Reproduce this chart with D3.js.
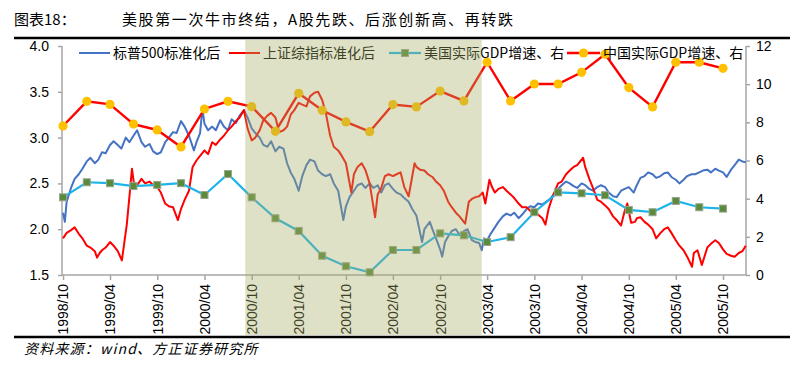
<!DOCTYPE html>
<html><head><meta charset="utf-8">
<script src="https://cdn.jsdelivr.net/npm/d3@7/dist/d3.min.js"></script>
<style>
body{margin:0;background:#fff;}
svg{display:block;}
</style></head>
<body><svg id="c" width="808" height="376"></svg>
<script>
// ---------- data ----------
const titleLabel = "图表18：";
const titleText = "美股第一次牛市终结，A股先跌、后涨创新高、再转跌";
const sourceText = "资料来源：wind、方正证券研究所";
const seriesNames = ["标普500标准化后","上证综指标准化后","美国实际GDP增速、右","中国实际GDP增速、右"];
const xTickLabels = ["1998/10","1999/04","1999/10","2000/04","2000/10","2001/04","2001/10","2002/04","2002/10","2003/04","2003/10","2004/04","2004/10","2005/04","2005/10"];
const leftTicks = [1.5,2.0,2.5,3.0,3.5,4.0];
const rightTicks = [0,2,4,6,8,10,12];
const shadeRange = ["2000-09-06","2003-03-11"];

const spx = [
["1998-10-01",2.18],["1998-10-08",2.08],["1998-10-15",2.30],["1998-11-01",2.45],["1998-11-15",2.55],
["1998-12-01",2.60],["1998-12-15",2.66],["1999-01-01",2.74],["1999-01-15",2.78],["1999-02-01",2.72],
["1999-02-15",2.76],["1999-03-01",2.84],["1999-03-15",2.83],["1999-04-01",2.92],["1999-04-15",2.96],
["1999-05-01",2.92],["1999-05-15",2.88],["1999-06-01",3.00],["1999-06-15",2.95],["1999-07-01",3.02],
["1999-07-15",3.08],["1999-08-01",2.95],["1999-08-15",2.90],["1999-09-01",2.93],["1999-09-15",2.85],
["1999-10-01",2.82],["1999-10-15",2.84],["1999-11-01",2.95],["1999-11-15",3.00],["1999-12-01",3.06],
["1999-12-15",3.05],["2000-01-01",3.18],["2000-01-15",3.12],["2000-02-01",3.02],["2000-02-20",2.86],
["2000-03-01",2.95],["2000-03-15",3.05],["2000-03-24",3.32],["2000-04-01",3.15],["2000-04-15",3.08],
["2000-05-01",3.12],["2000-05-15",3.08],["2000-06-01",3.19],["2000-06-15",3.12],["2000-07-01",3.08],
["2000-07-15",3.20],["2000-08-01",3.16],["2000-08-15",3.24],["2000-09-01",3.30],["2000-09-15",3.22],
["2000-10-01",3.10],["2000-10-15",3.05],["2000-11-01",3.00],["2000-11-15",2.92],["2000-12-01",2.90],
["2000-12-15",2.96],["2001-01-01",2.85],["2001-01-15",2.90],["2001-02-01",2.88],["2001-02-15",2.72],
["2001-03-01",2.62],["2001-03-15",2.55],["2001-04-01",2.42],["2001-04-15",2.58],["2001-05-01",2.70],
["2001-05-15",2.76],["2001-06-01",2.74],["2001-06-15",2.64],["2001-07-01",2.60],["2001-07-15",2.58],
["2001-08-01",2.60],["2001-08-15",2.50],["2001-09-01",2.42],["2001-09-21",2.10],["2001-10-01",2.25],
["2001-10-15",2.35],["2001-11-01",2.42],["2001-11-15",2.48],["2001-12-01",2.50],["2001-12-15",2.45],
["2002-01-01",2.50],["2002-01-15",2.45],["2002-02-01",2.48],["2002-02-15",2.40],["2002-03-01",2.48],
["2002-03-15",2.50],["2002-04-01",2.44],["2002-04-15",2.40],["2002-05-01",2.38],["2002-05-15",2.34],
["2002-06-01",2.30],["2002-06-15",2.22],["2002-07-01",2.15],["2002-07-23",1.86],["2002-08-01",2.00],
["2002-08-22",2.08],["2002-09-01",2.00],["2002-09-15",1.90],["2002-10-01",1.78],["2002-10-09",1.70],
["2002-10-20",1.86],["2002-11-01",1.92],["2002-11-15",1.98],["2002-12-01",2.00],["2002-12-15",1.94],
["2003-01-01",1.98],["2003-01-15",2.00],["2003-02-01",1.88],["2003-02-15",1.86],["2003-03-01",1.85],
["2003-03-11",1.77],["2003-03-20",1.90],["2003-04-01",1.88],["2003-04-15",1.95],["2003-05-01",2.02],
["2003-05-15",2.08],["2003-06-01",2.14],["2003-06-15",2.17],["2003-07-01",2.15],["2003-07-15",2.18],
["2003-08-01",2.12],["2003-08-15",2.16],["2003-09-01",2.22],["2003-09-15",2.25],["2003-10-01",2.24],
["2003-10-15",2.28],["2003-11-01",2.27],["2003-11-15",2.30],["2003-12-01",2.33],["2003-12-15",2.38],
["2004-01-01",2.44],["2004-01-15",2.48],["2004-02-01",2.52],["2004-02-15",2.50],["2004-03-01",2.47],
["2004-03-15",2.45],["2004-04-01",2.50],["2004-04-15",2.48],["2004-05-01",2.44],["2004-05-15",2.42],
["2004-06-01",2.46],["2004-06-15",2.48],["2004-07-01",2.46],["2004-07-15",2.40],["2004-08-01",2.36],
["2004-08-15",2.35],["2004-09-01",2.42],["2004-09-15",2.44],["2004-10-01",2.46],["2004-10-20",2.40],
["2004-11-01",2.48],["2004-11-15",2.56],["2004-12-01",2.58],["2004-12-15",2.62],["2005-01-01",2.60],
["2005-01-15",2.56],["2005-02-01",2.58],["2005-02-15",2.61],["2005-03-01",2.62],["2005-03-15",2.57],
["2005-04-01",2.54],["2005-04-15",2.50],["2005-05-01",2.54],["2005-05-15",2.58],["2005-06-01",2.60],
["2005-06-15",2.60],["2005-07-01",2.62],["2005-07-15",2.64],["2005-08-01",2.65],["2005-08-15",2.62],
["2005-09-01",2.66],["2005-09-15",2.64],["2005-10-01",2.62],["2005-10-15",2.57],["2005-11-01",2.65],
["2005-11-15",2.70],["2005-12-01",2.76],["2005-12-15",2.74],["2005-12-28",2.73]
];

const shci = [
["1998-10-01",1.90],["1998-10-15",1.96],["1998-11-01",1.99],["1998-11-15",2.02],["1998-12-01",1.95],
["1998-12-15",1.90],["1999-01-01",1.82],["1999-01-15",1.80],["1999-02-01",1.76],["1999-02-10",1.69],
["1999-02-20",1.74],["1999-03-01",1.77],["1999-03-15",1.80],["1999-04-01",1.86],["1999-04-15",1.82],
["1999-05-01",1.76],["1999-05-17",1.66],["1999-06-05",2.05],["1999-06-15",2.35],["1999-06-25",2.66],
["1999-07-05",2.45],["1999-07-15",2.48],["1999-08-01",2.55],["1999-08-15",2.50],["1999-09-01",2.52],
["1999-09-15",2.48],["1999-10-01",2.46],["1999-10-15",2.40],["1999-11-01",2.28],["1999-11-15",2.25],
["1999-12-01",2.24],["1999-12-20",2.10],["2000-01-01",2.22],["2000-01-15",2.32],["2000-02-01",2.42],
["2000-02-15",2.68],["2000-03-01",2.75],["2000-03-15",2.80],["2000-04-01",2.86],["2000-04-15",2.82],
["2000-05-01",2.95],["2000-05-15",2.92],["2000-06-01",2.98],["2000-06-15",3.02],["2000-07-01",3.08],
["2000-07-15",3.12],["2000-08-01",3.18],["2000-08-15",3.22],["2000-09-01",3.30],["2000-09-15",3.10],
["2000-10-01",2.97],["2000-10-15",3.00],["2000-11-01",3.08],["2000-11-15",3.19],["2000-12-01",3.24],
["2000-12-15",3.27],["2001-01-01",3.22],["2001-01-15",3.06],["2001-02-01",3.08],["2001-02-15",3.12],
["2001-03-01",3.25],["2001-03-15",3.30],["2001-04-01",3.38],["2001-04-15",3.36],["2001-05-01",3.34],
["2001-05-15",3.45],["2001-06-01",3.49],["2001-06-15",3.50],["2001-07-01",3.41],["2001-07-15",3.27],
["2001-08-01",3.02],["2001-08-15",2.90],["2001-09-01",2.86],["2001-09-15",2.80],["2001-10-01",2.72],
["2001-10-22",2.40],["2001-11-01",2.60],["2001-11-15",2.68],["2001-12-01",2.72],["2001-12-15",2.65],
["2002-01-01",2.50],["2002-01-22",2.13],["2002-02-01",2.38],["2002-02-15",2.45],["2002-03-01",2.58],
["2002-03-15",2.60],["2002-04-01",2.58],["2002-04-15",2.60],["2002-05-01",2.62],["2002-05-15",2.46],
["2002-06-01",2.36],["2002-06-24",2.72],["2002-07-01",2.68],["2002-07-15",2.65],["2002-08-01",2.64],
["2002-08-15",2.60],["2002-09-01",2.57],["2002-09-15",2.52],["2002-10-01",2.48],["2002-10-15",2.42],
["2002-11-01",2.30],["2002-11-15",2.24],["2002-12-01",2.18],["2002-12-15",2.14],["2003-01-06",2.06],
["2003-01-20",2.30],["2003-02-01",2.33],["2003-02-15",2.35],["2003-03-01",2.36],["2003-03-15",2.40],
["2003-03-25",2.28],["2003-04-10",2.54],["2003-04-20",2.46],["2003-05-01",2.40],["2003-05-15",2.44],
["2003-06-01",2.46],["2003-06-15",2.42],["2003-07-01",2.38],["2003-07-15",2.34],["2003-08-01",2.28],
["2003-08-15",2.24],["2003-09-01",2.24],["2003-09-15",2.20],["2003-10-01",2.17],["2003-10-15",2.16],
["2003-11-01",2.12],["2003-11-13",2.05],["2003-11-25",2.22],["2003-12-10",2.35],["2004-01-01",2.50],
["2004-01-15",2.52],["2004-02-01",2.60],["2004-02-15",2.64],["2004-03-01",2.68],["2004-03-15",2.70],
["2004-04-07",2.78],["2004-04-15",2.68],["2004-05-01",2.55],["2004-05-15",2.45],["2004-06-01",2.32],
["2004-06-15",2.30],["2004-07-01",2.26],["2004-07-15",2.22],["2004-08-01",2.14],["2004-08-15",2.10],
["2004-09-01",2.04],["2004-09-15",2.20],["2004-09-25",2.28],["2004-10-10",2.07],["2004-10-25",2.08],
["2004-11-01",2.12],["2004-11-15",2.13],["2004-12-01",2.08],["2004-12-15",2.05],["2005-01-01",2.00],
["2005-01-15",1.90],["2005-02-01",1.96],["2005-02-15",2.00],["2005-03-01",2.02],["2005-03-15",1.96],
["2005-04-01",1.88],["2005-04-15",1.82],["2005-05-01",1.77],["2005-05-15",1.70],["2005-06-03",1.59],
["2005-06-10",1.74],["2005-06-24",1.77],["2005-07-11",1.61],["2005-08-01",1.80],["2005-08-15",1.84],
["2005-09-01",1.88],["2005-09-15",1.85],["2005-10-01",1.78],["2005-10-15",1.73],["2005-11-01",1.71],
["2005-11-15",1.70],["2005-12-01",1.74],["2005-12-15",1.76],["2005-12-28",1.82]
];

const gdpQuarters = ["1998-10-01","1999-01-01","1999-04-01","1999-07-01","1999-10-01","2000-01-01","2000-04-01","2000-07-01",
"2000-10-01","2001-01-01","2001-04-01","2001-07-01","2001-10-01","2002-01-01","2002-04-01","2002-07-01",
"2002-10-01","2003-01-01","2003-04-01","2003-07-01","2003-10-01","2004-01-01","2004-04-01","2004-07-01",
"2004-10-01","2005-01-01","2005-04-01","2005-07-01","2005-10-01"];
const usGdp = [4.07,4.86,4.81,4.66,4.72,4.81,4.19,5.29,4.07,2.97,2.31,1.01,0.46,0.14,1.31,1.31,2.18,2.08,1.73,1.98,3.29,4.33,4.28,4.18,3.41,3.29,3.88,3.55,3.48];
const cnGdp = [7.81,9.10,8.94,7.91,7.60,6.71,8.70,9.10,8.82,7.53,9.52,8.63,8.02,7.51,8.93,8.81,9.64,9.12,11.15,9.12,10.01,10.01,10.62,11.57,9.82,8.81,11.15,11.15,10.83];

// ---------- drawing ----------
const parse = d3.timeParse("%Y-%m-%d");
const parseTick = d3.timeParse("%Y/%m");
const svg = d3.select("#c");
const L = 62, R = 746, T = 46, B = 275;

const x = d3.scaleTime().domain([parse("1998-09-27"), parse("2005-12-29")]).range([L, R]);
const yL = d3.scaleLinear().domain([1.5, 4]).range([B, T]);
const yR = d3.scaleLinear().domain([0, 12]).range([B, T]);

const FONT_CJK = "'Noto Sans CJK SC','Noto Sans',sans-serif";
const FONT_NUM = "'Liberation Sans',Arial,sans-serif";

// title
svg.append("text").attr("x", 14).attr("y", 25).attr("font-family", FONT_CJK).attr("font-size", 15).attr("fill", "#000").text(titleLabel);
svg.append("text").attr("x", 122).attr("y", 25).attr("font-family", FONT_CJK).attr("font-size", 15).attr("letter-spacing", 1.6).attr("fill", "#000").text(titleText);
svg.append("line").attr("x1", 14).attr("x2", 790).attr("y1", 38).attr("y2", 38).attr("stroke", "#000").attr("stroke-width", 2.5);
svg.append("line").attr("x1", 14).attr("x2", 790).attr("y1", 337).attr("y2", 337).attr("stroke", "#000").attr("stroke-width", 2.5);

// axes
const axisColor = "#a6a6a6";
const gL = svg.append("g").attr("transform", `translate(${L},0)`)
  .call(d3.axisLeft(yL).tickValues(leftTicks).tickFormat(d3.format(".1f")).tickSize(4).tickPadding(9));
const gR = svg.append("g").attr("transform", `translate(${R},0)`)
  .call(d3.axisRight(yR).tickValues(rightTicks).tickFormat(d3.format("d")).tickSize(4).tickPadding(6));
const tickDates = xTickLabels.map(s => parseTick(s));
const gX = svg.append("g").attr("transform", `translate(0,${B})`)
  .call(d3.axisBottom(x).tickValues(tickDates).tickFormat(d3.timeFormat("%Y/%m")).tickSize(5).tickSizeOuter(0));
[gL, gR, gX].forEach(g => {
  g.select(".domain").attr("stroke", axisColor).attr("stroke-width", 1.5);
  g.selectAll(".tick line").attr("stroke", axisColor).attr("stroke-width", 1.5);
  g.selectAll("text").attr("font-family", FONT_NUM).attr("font-size", 14).attr("fill", "#000");
});
gL.select(".domain").attr("d", `M0,${B}V${T}`);
gR.select(".domain").attr("d", `M0,${B}V${T}`);
gX.select(".domain").attr("d", `M${L},0H${R}`);
gX.selectAll(".tick text").attr("transform", "rotate(-90)").attr("text-anchor", "end")
  .attr("x", -9).attr("y", 0).attr("dy", "0.35em");

// lines
const lineL = d3.line().x(d => x(parse(d[0]))).y(d => yL(d[1]));
svg.append("path").datum(spx).attr("d", lineL).attr("fill", "none").attr("stroke", "#4472c4").attr("stroke-width", 2).attr("stroke-linejoin", "round");
svg.append("path").datum(shci).attr("d", lineL).attr("fill", "none").attr("stroke", "#ff0000").attr("stroke-width", 2).attr("stroke-linejoin", "round");

const usPts = gdpQuarters.map((d, i) => [d, usGdp[i]]);
const cnPts = gdpQuarters.map((d, i) => [d, cnGdp[i]]);
const lineR = d3.line().x(d => x(parse(d[0]))).y(d => yR(d[1]));
svg.append("path").datum(usPts).attr("d", lineR).attr("fill", "none").attr("stroke", "#1cb4ea").attr("stroke-width", 2.2);
svg.selectAll("rect.us").data(usPts).enter().append("rect").attr("class", "us")
  .attr("x", d => x(parse(d[0])) - 3.5).attr("y", d => yR(d[1]) - 3.5).attr("width", 7).attr("height", 7)
  .attr("fill", "#5b8a3a").attr("stroke", "#9aa590").attr("stroke-width", 1);
svg.append("path").datum(cnPts).attr("d", lineR).attr("fill", "none").attr("stroke", "#ff0000").attr("stroke-width", 2.4);
svg.selectAll("circle.cn").data(cnPts).enter().append("circle").attr("class", "cn")
  .attr("cx", d => x(parse(d[0]))).attr("cy", d => yR(d[1])).attr("r", 4.6).attr("fill", "#ffc000");

// legend
const lg = svg.append("g").attr("font-family", FONT_CJK).attr("font-size", 14).attr("fill", "#000");
const ly = 53;
const legendItems = [
  {x1: 79, x2: 110, tx: 113, color: "#4472c4", w: 2, marker: null},
  {x1: 229, x2: 260, tx: 263, color: "#ff0000", w: 2, marker: null},
  {x1: 389, x2: 421, tx: 424, color: "#1cb4ea", w: 2.2, marker: "sq"},
  {x1: 567, x2: 600, tx: 603, color: "#ff0000", w: 2.4, marker: "ci"}
];
legendItems.forEach((it, i) => {
  lg.append("line").attr("x1", it.x1).attr("x2", it.x2).attr("y1", ly).attr("y2", ly).attr("stroke", it.color).attr("stroke-width", it.w);
  const cx = (it.x1 + it.x2) / 2;
  if (it.marker === "sq") lg.append("rect").attr("x", cx - 3.5).attr("y", ly - 3.5).attr("width", 7).attr("height", 7).attr("fill", "#5b8a3a").attr("stroke", "#9aa590");
  if (it.marker === "ci") lg.append("circle").attr("cx", cx).attr("cy", ly).attr("r", 4.6).attr("fill", "#ffc000");
  lg.append("text").attr("x", it.tx).attr("y", ly).attr("dy", "0.36em").text(seriesNames[i]);
});

// shaded period overlay
svg.append("rect")
  .attr("x", x(parse(shadeRange[0]))).attr("y", 40)
  .attr("width", x(parse(shadeRange[1])) - x(parse(shadeRange[0]))).attr("height", 295)
  .attr("fill", "rgb(166,174,101)").attr("fill-opacity", 0.37);

// source
svg.append("text").attr("x", 24).attr("y", 354).attr("font-family", FONT_CJK).attr("font-size", 14)
  .attr("font-style", "italic").attr("letter-spacing", 1.2).attr("fill", "#000").text(sourceText);
</script>
</body></html>
